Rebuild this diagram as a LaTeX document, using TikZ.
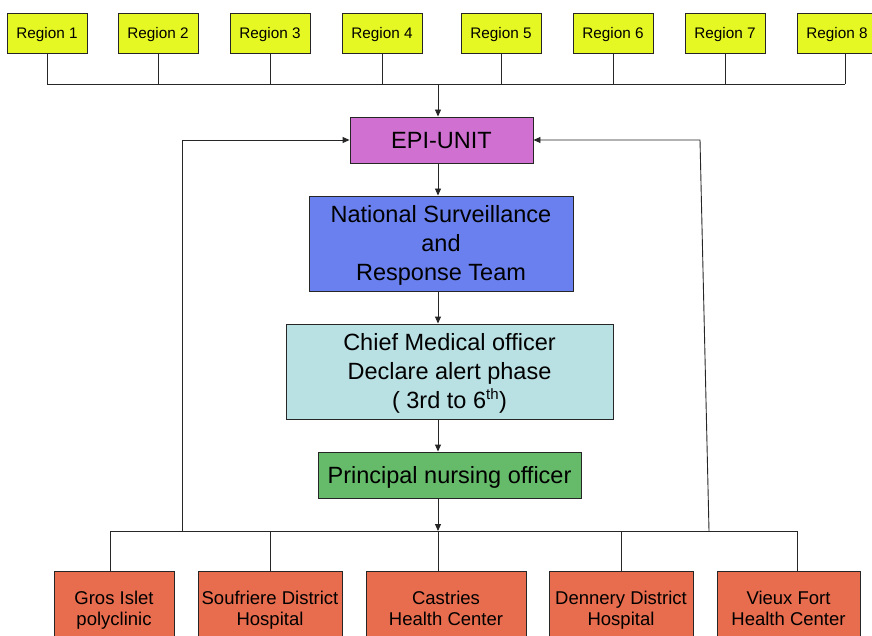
\documentclass[tikz,border=0pt]{standalone}
\usepackage{fontspec}
\setmainfont{Liberation Sans}
\usetikzlibrary{arrows.meta}
\definecolor{regy}{HTML}{E6F823}
\definecolor{epic}{HTML}{D070D0}
\definecolor{nsc}{HTML}{6A80EE}
\definecolor{cmoc}{HTML}{B9E0E3}
\definecolor{pnoc}{HTML}{66BB6A}
\definecolor{botc}{HTML}{E86C4E}
\begin{document}
\begin{tikzpicture}[x=1pt,y=-1pt,
  box/.style={draw=black!85, line width=0.9pt, align=center, inner sep=0pt},
  reg/.style={box, fill=regy, minimum width=80pt, minimum height=40pt, font=\fontsize{15.3}{18}\selectfont, text height=11pt, text depth=0pt},
  mid/.style={box, font=\fontsize{23.5}{29}\selectfont, text height=16.8pt, text depth=0pt},
  mid3/.style={mid, text height=74.8pt, text depth=-2.8pt},
  bot/.style={box, fill=botc, minimum height=74pt, font=\fontsize{18.5}{21}\selectfont, text height=34.25pt, text depth=0.25pt},
  conn/.style={draw=black!85, line width=0.9pt},
  arr/.style={conn, -{Triangle[length=7pt,width=6pt]}}]
\useasboundingbox (0,0) rectangle (872,636);
% regions
\node[reg] (r1) at (47,33) {Region 1};
\node[reg] (r2) at (158,33) {Region 2};
\node[reg] (r3) at (270,33) {Region 3};
\node[reg] (r4) at (382,33) {Region 4};
\node[reg] (r5) at (501,33) {Region 5};
\node[reg] (r6) at (613,33) {Region 6};
\node[reg] (r7) at (725,33) {Region 7};
\node[reg] (r8) at (837,33) {Region 8};
% central column
\node[mid, fill=epic, minimum width=183pt, minimum height=46pt] (epi) at (441.5,140) {EPI-UNIT};
\node[mid3, fill=nsc, minimum width=264pt, minimum height=95pt] (ns) at (441,243.5) {National Surveillance\\and\\Response Team};
\node[mid3, fill=cmoc, minimum width=327pt, minimum height=95pt] (cmo) at (449.5,371.5) {Chief Medical officer\\Declare alert phase\\( 3rd to 6\textsuperscript{\fontsize{15}{15}\selectfont th})};
\node[mid, fill=pnoc, minimum width=263pt, minimum height=46pt] (pno) at (449.5,475) {Principal nursing officer};
% bottom
\node[bot, minimum width=120pt] (gi) at (114,608) {Gros Islet\\polyclinic};
\node[bot, minimum width=144pt] (sd) at (270,608) {Soufriere District\\Hospital};
\node[bot, minimum width=160pt] (ch) at (446,608) {Castries\\Health Center};
\node[bot, minimum width=144pt] (dd) at (621,608) {Dennery District\\Hospital};
\node[bot, minimum width=143pt] (vf) at (788.5,608) {Vieux Fort\\Health Center};
% top bus
\coordinate (tb) at (0,84);
\foreach \i in {1,...,7} \draw[conn] (r\i.south) -- (r\i.south |- tb);
\draw[conn] ([xshift=8pt]r8.south) -- ([xshift=8pt]r8.south |- tb);
\draw[conn] (r1.south |- tb) -- ([xshift=8pt]r8.south |- tb);
% spine
\coordinate (sp) at (438,84);
\coordinate (bb) at (438,531);
\draw[arr] (sp) -- (sp |- epi.north);
\draw[arr] (sp |- epi.south) -- (sp |- ns.north);
\draw[arr] (sp |- ns.south) -- (sp |- cmo.north);
\draw[arr] (sp |- cmo.south) -- (sp |- pno.north);
\draw[arr] (sp |- pno.south) -- (bb);
% bottom bus
\draw[conn] ([xshift=-4pt]gi.north |- bb) -- ([xshift=8.5pt]vf.north |- bb);
\draw[conn] ([xshift=-4pt]gi.north |- bb) -- ([xshift=-4pt]gi.north);
\draw[conn] (sd.north |- bb) -- (sd.north);
\draw[conn] (bb) -- (bb |- ch.north);
\draw[conn] (dd.north |- bb) -- (dd.north);
\draw[conn] ([xshift=8.5pt]vf.north |- bb) -- ([xshift=8.5pt]vf.north);
% feedback loops
\coordinate (lL) at (182,531);
\coordinate (lR) at (709,531);
\coordinate (rT) at (700,140);
\draw[arr] (lL) |- (epi.west);
\draw[arr] (lR) -- (rT) -- (epi.east);
\end{tikzpicture}
\end{document}
